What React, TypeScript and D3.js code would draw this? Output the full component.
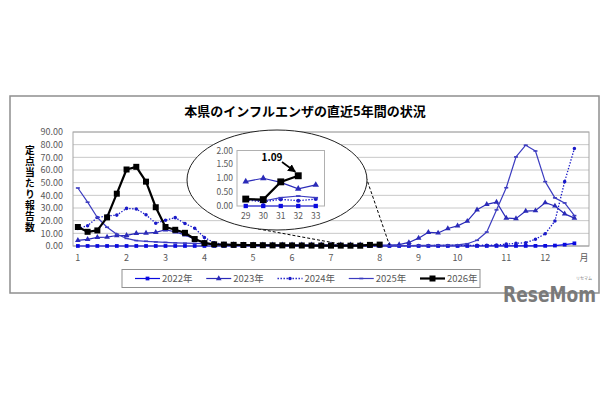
import * as d3 from 'd3';

// Weekly reports per sentinel (定点当たり報告数), weeks 1-52.
const YEARS = ['2022年', '2023年', '2024年', '2025年', '2026年'];

const V2022 = [
  0.02, 0.02, 0.02, 0.02, 0.02, 0.02, 0.02, 0.02, 0.02, 0.02,
  0.02, 0.02, 0.02, 0.02, 0.02, 0.02, 0.02, 0.02, 0.02, 0.02,
  0.02, 0.02, 0.02, 0.02, 0.02, 0.02, 0.02, 0.0, 0.0, 0.0,
  0.0, 0.0, 0.0, 0.02, 0.02, 0.02, 0.02, 0.02, 0.02, 0.02,
  0.02, 0.02, 0.03, 0.03, 0.04, 0.05, 0.06, 0.08, 0.12, 0.35,
  1.05, 2.1,
];
const V2023 = [
  4.5, 5.3, 6.8, 7.0, 8.3, 8.4, 10.0, 10.2, 10.8, 12.8,
  11.2, 8.8, 5.4, 2.7, 1.4, 1.2, 1.1, 1.0, 1.0, 0.95,
  0.9, 0.9, 0.95, 1.0, 1.0, 0.95, 0.9, 0.9, 0.88, 1.0,
  0.85, 0.62, 0.76, 1.1, 2.8, 6.2, 10.8, 10.3, 13.8, 15.9,
  19.6, 28.6, 32.9, 34.7, 22.0, 21.6, 27.6, 27.9, 34.2, 31.6,
  25.4, 22.0,
];
const V2024 = [
  13.8, 16.0, 22.5, 23.7, 24.4, 29.7, 29.2, 24.6, 18.0, 20.4,
  22.4, 17.8, 14.0, 6.7, 2.6, 1.3, 0.9, 0.7, 0.5, 0.45,
  0.4, 0.35, 0.3, 0.3, 0.25, 0.25, 0.2, 0.2, 0.22, 0.15,
  0.24, 0.19, 0.25, 0.3, 0.3, 0.35, 0.35, 0.4, 0.4, 0.45,
  0.5, 0.55, 0.6, 0.8, 1.5, 2.1, 2.6, 5.4, 9.6, 19.7,
  50.8, 77.0,
];
const V2025 = [
  45.8, 34.6, 22.5, 14.8, 9.3, 6.0, 4.3, 3.7, 3.2, 2.8,
  2.5, 2.2, 2.0, 1.8, 1.5, 1.3, 1.1, 0.9, 0.8, 0.7,
  0.6, 0.55, 0.5, 0.45, 0.4, 0.35, 0.3, 0.3, 0.25, 0.18,
  0.3, 0.36, 0.3, 0.35, 0.4, 0.45, 0.5, 0.6, 0.7, 0.9,
  1.8, 4.5, 11.0, 28.5, 46.0, 70.3, 79.6, 75.0, 50.8, 38.0,
  34.0, 24.0,
];
const V2026 = [
  15.0, 11.2, 12.3, 22.6, 41.3, 60.4, 62.5, 50.8, 30.6, 15.0,
  12.8, 10.4, 5.5, 2.3, 1.3, 1.1, 0.9, 0.8, 0.7, 0.6,
  0.5, 0.5, 0.45, 0.4, 0.35, 0.3, 0.3, 0.3, 0.25, 0.23,
  0.87, 1.09,
];

const MONTH_LABELS = ['1', '2', '3', '4', '5', '6', '7', '8', '9', '10', '11', '12', '月'];
const MONTH_START_WEEKS = [1, 6, 10, 14, 19, 23, 27, 32, 36, 40, 45, 49, 53];
const Y_TICKS = [0, 10, 20, 30, 40, 50, 60, 70, 80, 90];
const INSET_WEEKS = [29, 30, 31, 32, 33];
const INSET_TICKS = [0, 0.5, 1, 1.5, 2];
const CALLOUT_WEEK = 32;

type MarkerKind = 'square' | 'triangle' | 'circle' | 'dash' | 'bigSquare';
type Series = { name: string; values: number[]; color: string; width: number; dash?: string; marker: MarkerKind };

const SERIES: Series[] = [
  { name: YEARS[0], values: V2022, color: '#0a0ae0', width: 1.2, marker: 'square' },
  { name: YEARS[1], values: V2023, color: '#2a2ab8', width: 1.2, marker: 'triangle' },
  { name: YEARS[2], values: V2024, color: '#1a1ac8', width: 1.3, dash: '1.4 1.6', marker: 'circle' },
  { name: YEARS[3], values: V2025, color: '#3c3cc0', width: 1.2, marker: 'dash' },
  { name: YEARS[4], values: V2026, color: '#000000', width: 2.2, marker: 'bigSquare' },
];

const FONT = '"Noto Sans CJK JP", "Noto Sans", sans-serif';
const GRAY_TEXT = '#595959';

function Marker({ kind, x, y, color, scale = 1 }: { kind: MarkerKind; x: number; y: number; color: string; scale?: number }) {
  if (kind === 'dash') {
    return <rect x={x - 2 * scale} y={y - 0.8} width={4 * scale} height={1.6} fill={color} />;
  }
  const types = { square: d3.symbolSquare, triangle: d3.symbolTriangle, circle: d3.symbolCircle, bigSquare: d3.symbolSquare };
  const sizes = { square: 14, triangle: 14, circle: 10, bigSquare: 36 };
  const path = d3.symbol().type(types[kind]).size(sizes[kind] * scale * scale)() ?? '';
  return <path d={path} transform={`translate(${x},${y})`} fill={color} />;
}

export default function App() {
  const W = 610;
  const H = 400;

  // main plot
  const plot = { left: 73, right: 589, top: 132, bottom: 246 };
  const weeks = d3.range(1, 54);
  const xBand = d3.scaleBand<number>().domain(weeks).range([plot.left, plot.right]).padding(0);
  const x = (w: number) => (xBand(w) ?? 0) + xBand.bandwidth() / 2;
  const y = d3.scaleLinear().domain([0, 90]).range([plot.bottom, plot.top]);

  const line = d3.line<number>().x((_, i) => x(i + 1)).y((d) => y(d));

  // inset
  const inset = { left: 237, right: 324.5, top: 150.5, bottom: 206 };
  const ixBand = d3.scaleBand<number>().domain(INSET_WEEKS).range([inset.left, inset.right]).padding(0);
  const ix = (w: number) => (ixBand(w) ?? 0) + ixBand.bandwidth() / 2;
  const iy = d3.scaleLinear().domain([0, 2]).range([inset.bottom, inset.top]);
  const insetPoints = (vals: number[]) =>
    INSET_WEEKS.filter((w) => w <= vals.length).map((w) => [ix(w), iy(vals[w - 1])] as [number, number]);
  const insetLine = d3.line<[number, number]>();

  const ell = { cx: 277, cy: 180, rx: 90, ry: 50 };
  const ellY = (px: number, sign: number) => ell.cy + sign * ell.ry * Math.sqrt(1 - ((px - ell.cx) / ell.rx) ** 2);

  const calloutX = ix(CALLOUT_WEEK);
  const calloutY = iy(V2026[CALLOUT_WEEK - 1]);

  // legend
  const legend = { left: 122, right: 480, top: 269.5, bottom: 287.5 };
  const legendItemX = d3.scalePoint<string>().domain(YEARS).range([135, 420]);

  return (
    <svg width={W} height={H} viewBox={`0 0 ${W} ${H}`} style={{ position: 'absolute', left: 0, top: 0, background: '#fff' }} fontFamily={FONT}>
      <rect x={0} y={0} width={W} height={H} fill="#fff" />
      {/* outer frame */}
      <rect x={10} y={96} width={589} height={197} fill="#fff" stroke="#8f8f8f" strokeWidth={1.5} />

      {/* title */}
      <text x={305} y={115.5} textAnchor="middle" fontSize={13} fontWeight={700} fill="#000">
        本県のインフルエンザの直近5年間の状況
      </text>

      {/* y axis title, vertical writing */}
      <text x={30} y={145} fontSize={9.8} fontWeight={700} fill="#000" style={{ writingMode: 'vertical-rl', letterSpacing: '1.3px' }}>
        定点当たり報告数
      </text>

      {/* grid */}
      {Y_TICKS.map((t) => (
        <g key={t}>
          <line x1={plot.left} x2={plot.right} y1={y(t)} y2={y(t)} stroke={t === 0 ? '#a6a6a6' : '#c8c8c8'} strokeWidth={1} />
          <text x={63} y={y(t) + 3.2} textAnchor="end" fontSize={9} fill={GRAY_TEXT}>
            {t.toFixed(2)}
          </text>
        </g>
      ))}
      <rect x={plot.left} y={plot.top} width={plot.right - plot.left} height={plot.bottom - plot.top} fill="none" stroke="#a6a6a6" strokeWidth={1} />

      {/* month labels */}
      {MONTH_LABELS.map((m, i) => (
        <text key={m} x={x(MONTH_START_WEEKS[i])} y={260.5} textAnchor="middle" fontSize={9} fill={GRAY_TEXT}>
          {m}
        </text>
      ))}

      {/* series */}
      {SERIES.map((s) => (
        <g key={s.name}>
          <path d={line(s.values) ?? ''} fill="none" stroke={s.color} strokeWidth={s.width} strokeDasharray={s.dash} strokeLinejoin="round" />
          {s.values.map((v, i) => (
            <Marker key={i} kind={s.marker} x={x(i + 1)} y={y(v)} color={s.color} />
          ))}
        </g>
      ))}

      {/* dashed leader lines */}
      <line x1={258} y1={ellY(258, 1)} x2={x(28)} y2={y(1.5)} stroke="#000" strokeWidth={1} strokeDasharray="3 2" />
      <line x1={366} y1={177} x2={x(33)} y2={y(0.8)} stroke="#000" strokeWidth={1} strokeDasharray="3 2" />

      {/* magnifier ellipse with inset */}
      <ellipse cx={ell.cx} cy={ell.cy} rx={ell.rx} ry={ell.ry} fill="#fff" stroke="#222" strokeWidth={1} />
      <rect x={inset.left} y={inset.top} width={inset.right - inset.left} height={inset.bottom - inset.top} fill="#fff" stroke="#b0b0b0" strokeWidth={1} />
      {INSET_TICKS.map((t) => (
        <text key={t} x={233} y={iy(t) + 3} textAnchor="end" fontSize={8.5} fill={GRAY_TEXT}>
          {t.toFixed(2)}
        </text>
      ))}
      {INSET_WEEKS.map((w) => (
        <text key={w} x={ix(w)} y={219} textAnchor="middle" fontSize={8.5} fill={GRAY_TEXT}>
          {w}
        </text>
      ))}
      {SERIES.map((s) => {
        const pts = insetPoints(s.values);
        return (
          <g key={s.name}>
            <path d={insetLine(pts) ?? ''} fill="none" stroke={s.color} strokeWidth={s.width} strokeDasharray={s.dash} />
            {pts.map(([px, py], i) => (
              <Marker key={i} kind={s.marker} x={px} y={py} color={s.color} scale={1.15} />
            ))}
          </g>
        );
      })}

      {/* callout */}
      <defs>
        <marker id="arrow" viewBox="0 0 10 10" refX={9} refY={5} markerWidth={5} markerHeight={5} orient="auto">
          <path d="M0,0 L10,5 L0,10 z" fill="#000" />
        </marker>
      </defs>
      <text x={272} y={161} textAnchor="middle" fontSize={10} fontWeight={700} fill="#000">
        {V2026[CALLOUT_WEEK - 1].toFixed(2)}
      </text>
      <line x1={282} y1={162} x2={calloutX - 3} y2={calloutY - 4} stroke="#000" strokeWidth={1.6} markerEnd="url(#arrow)" />

      {/* legend */}
      <rect x={legend.left} y={legend.top} width={legend.right - legend.left} height={legend.bottom - legend.top} fill="#fff" stroke="#8f8f8f" strokeWidth={1} />
      {SERIES.map((s) => {
        const lx = legendItemX(s.name) ?? 0;
        const ly = (legend.top + legend.bottom) / 2;
        return (
          <g key={s.name}>
            <line x1={lx} x2={lx + 25} y1={ly} y2={ly} stroke={s.color} strokeWidth={s.width} strokeDasharray={s.dash} />
            <Marker kind={s.marker} x={lx + 12.5} y={ly} color={s.color} />
            <text x={lx + 27} y={ly + 3.4} fontSize={9.5} fill={GRAY_TEXT}>
              {s.name}
            </text>
          </g>
        );
      })}

      {/* watermark */}
      <text x={503} y={302} fontSize={22} fontWeight={700} fill="#7a7a7a" textLength={93} lengthAdjust="spacingAndGlyphs" fontFamily='"DejaVu Sans Condensed", "DejaVu Sans", sans-serif'>
        ReseMom
      </text>
      <text x={584} y={279.5} textAnchor="middle" fontSize={4} fill="#7a7a7a">
        リセマム
      </text>
    </svg>
  );
}
